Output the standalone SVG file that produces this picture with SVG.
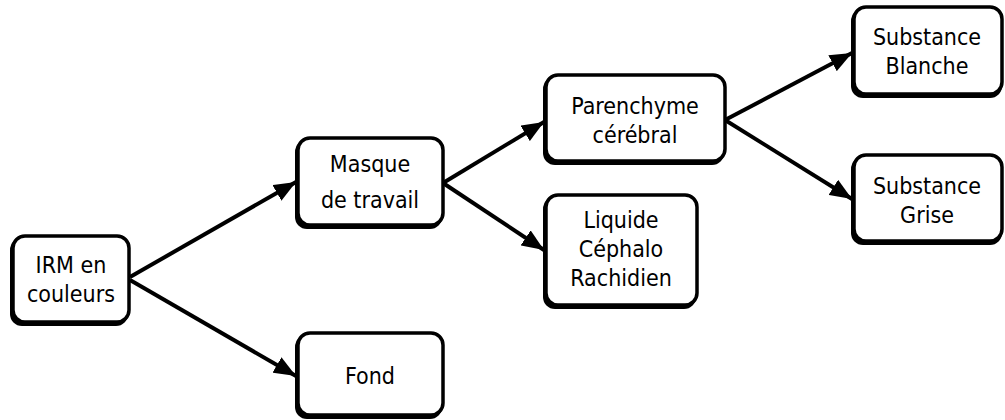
<svg xmlns="http://www.w3.org/2000/svg" width="1005" height="420" viewBox="0 0 1005 420">
<style>
.box{fill:#fff;stroke:#000;stroke-width:3.5}
.sh{fill:#000}
.t{font-family:"DejaVu Sans Condensed","DejaVu Sans",sans-serif;font-stretch:condensed;font-size:23px;fill:#000;text-anchor:middle}
.c{stroke:#000;stroke-width:4;fill:none}
</style>
<defs>
<marker id="ah" markerUnits="userSpaceOnUse" markerWidth="24" markerHeight="18" refX="22" refY="9" orient="auto">
<path d="M0,0 L22,9 L0,18 Z" fill="#000"/>
</marker>
</defs>
<rect width="1005" height="420" fill="#fff"/>
<g id="connectors">
<line class="c" x1="130" y1="277" x2="296" y2="182" marker-end="url(#ah)"/>
<line class="c" x1="130" y1="280" x2="296" y2="376" marker-end="url(#ah)"/>
<line class="c" x1="443" y1="183" x2="544" y2="122" marker-end="url(#ah)"/>
<line class="c" x1="443" y1="183" x2="544" y2="250" marker-end="url(#ah)"/>
<line class="c" x1="725" y1="120" x2="852" y2="53" marker-end="url(#ah)"/>
<line class="c" x1="725" y1="120" x2="852" y2="199" marker-end="url(#ah)"/>
</g>
<g id="irm">
<rect class="sh" x="10" y="238" width="118" height="88" rx="12"/>
<rect class="box" x="13" y="236" width="116" height="86" rx="12"/>
<text class="t" x="71" y="273">IRM en</text>
<text class="t" x="71" y="302">couleurs</text>
</g>
<g id="masque">
<rect class="sh" x="295" y="140" width="147" height="89" rx="12"/>
<rect class="box" x="298" y="138" width="145" height="87" rx="12"/>
<text class="t" x="370" y="172">Masque</text>
<text class="t" x="370" y="208">de travail</text>
</g>
<g id="fond">
<rect class="sh" x="295" y="335" width="147" height="84" rx="12"/>
<rect class="box" x="298" y="333" width="145" height="82" rx="12"/>
<text class="t" x="370" y="384">Fond</text>
</g>
<g id="parenchyme">
<rect class="sh" x="543" y="77" width="181" height="88" rx="12"/>
<rect class="box" x="546" y="75" width="179" height="86" rx="12"/>
<text class="t" x="635" y="114">Parenchyme</text>
<text class="t" x="635" y="143">cérébral</text>
</g>
<g id="liquide">
<rect class="sh" x="543" y="197" width="153" height="112" rx="12"/>
<rect class="box" x="546" y="195" width="151" height="110" rx="12"/>
<text class="t" x="621" y="228">Liquide</text>
<text class="t" x="621" y="257">Céphalo</text>
<text class="t" x="621" y="286">Rachidien</text>
</g>
<g id="blanche">
<rect class="sh" x="851" y="9" width="151" height="89" rx="12"/>
<rect class="box" x="854" y="7" width="148" height="87" rx="12"/>
<text class="t" x="927" y="45">Substance</text>
<text class="t" x="927" y="74">Blanche</text>
</g>
<g id="grise">
<rect class="sh" x="851" y="157" width="151" height="88" rx="12"/>
<rect class="box" x="854" y="155" width="148" height="86" rx="12"/>
<text class="t" x="927" y="194">Substance</text>
<text class="t" x="927" y="223">Grise</text>
</g>
</svg>
